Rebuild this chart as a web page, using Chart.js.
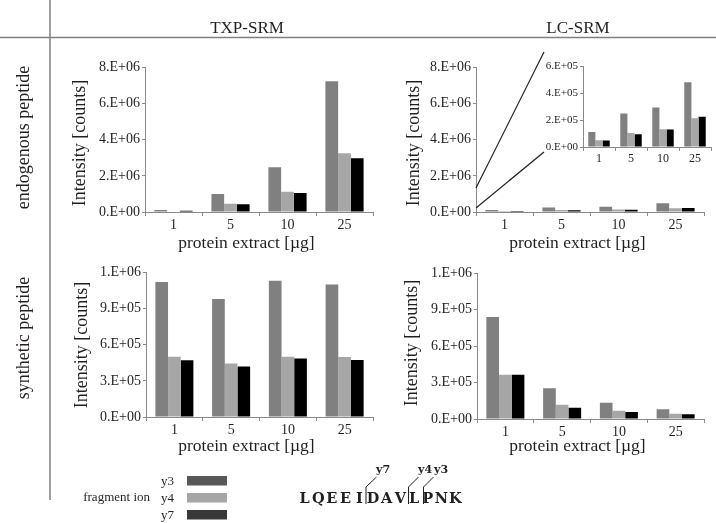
<!DOCTYPE html>
<html>
<head>
<meta charset="utf-8">
<script src="https://cdn.jsdelivr.net/npm/chart.js@4.4.1/dist/chart.umd.min.js"></script>
<style>
  html, body { margin: 0; padding: 0; background: #fff; }
  #page { position: relative; width: 716px; height: 523px; overflow: hidden; font-family: "Liberation Serif", "DejaVu Serif", serif; }
  .box { position: absolute; }
  #overlay { position: absolute; left: 0; top: 0; pointer-events: none; }
  .slab { font-family: "DejaVu Serif", "Liberation Serif", serif; font-weight: bold; }
</style>
</head>
<body>
<div id="page">
  <div class="box" style="left:90px;top:57px;width:300px;height:180px"><canvas id="txpEndoChart"></canvas></div>
  <div class="box" style="left:420px;top:57px;width:295px;height:180px"><canvas id="lcEndoChart"></canvas></div>
  <div class="box" style="left:540px;top:58px;width:176px;height:107px"><canvas id="insetChart"></canvas></div>
  <div class="box" style="left:90px;top:262px;width:300px;height:180px"><canvas id="txpSynChart"></canvas></div>
  <div class="box" style="left:420px;top:263px;width:295px;height:181px"><canvas id="lcSynChart"></canvas></div>

  <svg id="overlay" width="716" height="523" font-family="Liberation Serif, DejaVu Serif, serif" fill="#231f20">
    <!-- raster -->
    <line x1="50" y1="0" x2="50" y2="500" stroke="#857f80" stroke-width="1.5"/>
    <line x1="0" y1="37.5" x2="716" y2="37.5" stroke="#857f80" stroke-width="1.5"/>

    <text x="247" y="33" text-anchor="middle" font-size="17">TXP-SRM</text>
    <text x="578" y="33" text-anchor="middle" font-size="17">LC-SRM</text>
    <text transform="translate(29,137.5) rotate(-90)" text-anchor="middle" font-size="18">endogenous peptide</text>
    <text transform="translate(29,338) rotate(-90)" text-anchor="middle" font-size="18">synthetic peptide</text>

    <!-- Achsentitel -->
    <text transform="translate(85,143) rotate(-90)" text-anchor="middle" font-size="18">Intensity [counts]</text>
    <text transform="translate(419,143) rotate(-90)" text-anchor="middle" font-size="18">Intensity [counts]</text>
    <text transform="translate(87,345) rotate(-90)" text-anchor="middle" font-size="18">Intensity [counts]</text>
    <text transform="translate(417,343) rotate(-90)" text-anchor="middle" font-size="18">Intensity [counts]</text>
    <text x="246.5" y="248" text-anchor="middle" font-size="17.5">protein extract [µg]</text>
    <text x="577.5" y="248" text-anchor="middle" font-size="17.5">protein extract [µg]</text>
    <text x="246.5" y="451" text-anchor="middle" font-size="17.5">protein extract [µg]</text>
    <text x="577.5" y="451" text-anchor="middle" font-size="17.5">protein extract [µg]</text>

    <!-- Zoom-Linien zum Inset -->
    <line x1="476" y1="188" x2="544" y2="52" stroke="#231f20" stroke-width="1.2"/>
    <line x1="476" y1="208" x2="544" y2="152" stroke="#231f20" stroke-width="1.2"/>

    <!-- Legende -->
    <g id="legend"></g>

    <!-- Peptidsequenz -->
    <text id="peptide" class="slab" y="503" text-anchor="middle" style="font-size:14.5px">LQEEIDAVLPNK</text>
    <g stroke="#231f20" stroke-width="1" fill="none">
      <polyline points="366,504 366,487 376.5,477"/>
      <polyline points="408.5,504 408.5,487 418.5,477"/>
      <polyline points="423.5,504 423.5,487 433.5,477"/>
    </g>
    <g class="slab" style="font-size:11px">
      <text x="376" y="473">y7</text>
      <text x="418" y="473">y4</text>
      <text x="434" y="473">y3</text>
    </g>
  </svg>
</div>

<script>
// Kategorien und Werte
const categories = ['1', '5', '10', '25'];
const ionNames = ['y3', 'y4', 'y7'];
const barColors = ['#808080', '#a6a6a6', '#000000'];
const legendColors = ['#58585a', '#a6a6a6', '#383838'];

// TXP-SRM, endogenes Peptid
const txpEndoY3 = [110000, 1000000, 2480000, 7230000];
const txpEndoY4 = [30000, 450000, 1120000, 3250000];
const txpEndoY7 = [70000, 430000, 1050000, 2980000];

// LC-SRM, endogenes Peptid (gleiche Werte im Inset)
const lcEndoY3 = [112000, 250000, 294000, 483000];
const lcEndoY4 = [50000, 104000, 132000, 214000];
const lcEndoY7 = [49000, 96000, 131000, 226000];

// TXP-SRM, synthetisches Peptid
const txpSynY3 = [1120000, 980000, 1130000, 1100000];
const txpSynY4 = [500000, 445000, 500000, 497000];
const txpSynY7 = [470000, 420000, 486000, 472000];

// LC-SRM, synthetisches Peptid
const lcSynY3 = [840000, 253000, 134000, 80000];
const lcSynY4 = [365000, 118000, 68000, 44000];
const lcSynY7 = [365000, 93000, 58000, 39000];

const axisColor = '#8a8a8a';
const textColor = '#231f20';
const serif = "'Liberation Serif', 'DejaVu Serif', serif";

// Excel-Format 0.E+00
function fmtExp(v) {
    if (v === 0) return '0.E+00';
    let e = Math.floor(Math.log10(v));
    let m = Math.round(v / Math.pow(10, e));
    if (m === 10) { m = 1; e++; }
    return m + '.E+' + String(e).padStart(2, '0');
}

function makeChart(id, y3, y4, y7, cfg) {
    const series = [y3, y4, y7];
    return new Chart(document.getElementById(id), {
        type: 'bar',
        data: {
            labels: categories,
            datasets: series.map((d, i) => ({
                label: ionNames[i],
                data: d,
                backgroundColor: barColors[i],
                borderWidth: 0,
                categoryPercentage: 0.67,
                barPercentage: 1
            }))
        },
        options: {
            responsive: true,
            maintainAspectRatio: false,
            animation: false,
            devicePixelRatio: 1,
            layout: { padding: { top: cfg.padTop, right: cfg.padRight, left: 0, bottom: 0 } },
            plugins: { legend: { display: false }, tooltip: { enabled: false } },
            scales: {
                x: {
                    offset: true,
                    grid: { offset: true, drawOnChartArea: false, drawTicks: true, tickLength: 4, color: axisColor },
                    border: { color: axisColor, width: 1 },
                    ticks: { color: textColor, font: { family: serif, size: cfg.xFont }, padding: 1, maxRotation: 0 },
                    afterFit: s => { s.height = cfg.xHeight; }
                },
                y: {
                    min: 0,
                    max: cfg.max,
                    grid: { drawOnChartArea: false, drawTicks: true, tickLength: 3, color: axisColor },
                    border: { color: axisColor, width: 1 },
                    ticks: { stepSize: cfg.step, callback: v => fmtExp(v), color: textColor, font: { family: serif, size: cfg.yFont }, padding: 2 },
                    afterFit: s => { s.width = cfg.yWidth; }
                }
            }
        }
    });
}

makeChart('txpEndoChart', txpEndoY3, txpEndoY4, txpEndoY7,
    { max: 8000000, step: 2000000, padTop: 10, padRight: 17, yWidth: 55, xHeight: 25, xFont: 14, yFont: 14 });
makeChart('lcEndoChart', lcEndoY3, lcEndoY4, lcEndoY7,
    { max: 8000000, step: 2000000, padTop: 10, padRight: 11, yWidth: 56, xHeight: 25, xFont: 14, yFont: 14 });
makeChart('insetChart', lcEndoY3, lcEndoY4, lcEndoY7,
    { max: 600000, step: 200000, padTop: 7, padRight: 5, yWidth: 43, xHeight: 18, xFont: 12, yFont: 11 });
makeChart('txpSynChart', txpSynY3, txpSynY4, txpSynY7,
    { max: 1200000, step: 300000, padTop: 10, padRight: 17, yWidth: 56, xHeight: 25, xFont: 14, yFont: 14 });
makeChart('lcSynChart', lcSynY3, lcSynY4, lcSynY7,
    { max: 1200000, step: 300000, padTop: 10, padRight: 11, yWidth: 57, xHeight: 25, xFont: 14, yFont: 14 });

// Peptid: feste Zeichenteilung wie Schreibmaschinenschrift
const pep = document.getElementById('peptide');
const pitch = 13.7;
pep.setAttribute('x', Array.from(pep.textContent, (c, i) => (304.5 + i * pitch).toFixed(1)).join(' '));

// Legende "fragment ion"
const ns = 'http://www.w3.org/2000/svg';
const legend = document.getElementById('legend');
const legendTops = [476, 493, 510];
function svgEl(tag, attrs, txt) {
    const el = document.createElementNS(ns, tag);
    for (const k in attrs) el.setAttribute(k, attrs[k]);
    if (txt) el.textContent = txt;
    legend.appendChild(el);
}
svgEl('text', { x: 150, y: 501, 'text-anchor': 'end', 'font-size': 13 }, 'fragment ion');
ionNames.forEach((n, i) => {
    svgEl('text', { x: 161, y: legendTops[i] + 8.5, 'font-size': 13 }, n);
    svgEl('rect', { x: 187, y: legendTops[i], width: 40, height: 9.5, fill: legendColors[i] });
});
</script>
</body>
</html>
